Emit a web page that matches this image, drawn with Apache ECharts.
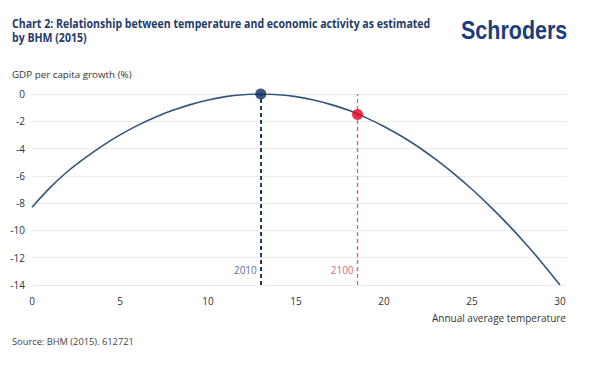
<!DOCTYPE html>
<html>
<head>
<meta charset="utf-8">
<script src="https://cdn.jsdelivr.net/npm/echarts@6/dist/echarts.min.js"></script>
<style>
html,body{margin:0;padding:0;background:#fff;}
#c{width:600px;height:371px;}
</style>
</head>
<body>
<div id="c"></div>
<script>
// Data
const temperatures = [0,1,2,3,4,5,6,7,8,9,10,11,12,13,14,15,16,17,18,19,20,21,22,23,24,25,26,27,28,29,30];
const gdpGrowth = [-8.3,-6.9,-5.7,-4.7,-3.8,-3.0,-2.3,-1.7,-1.2,-0.78,-0.44,-0.19,-0.05,0,-0.05,-0.19,-0.44,-0.78,-1.2,-1.75,-2.38,-3.1,-3.92,-4.85,-5.87,-6.98,-8.2,-9.5,-10.9,-12.4,-14.0];
const markerYears = ['2010','2100'];
const markerTemps = [13.0, 18.5];
const markerGrowth = [0, -1.5];
const xTickValues = [0,5,10,15,20,25,30];
const yTicks = {min:-14, max:0, interval:2};

const titleLines = ['Chart 2: Relationship between temperature and economic activity as estimated','by BHM (2015)'];
const yAxisTitle = 'GDP per capita growth (%)';
const xAxisTitle = 'Annual average temperature';
const sourceText = 'Source: BHM (2015). 612721';
const logoText = 'Schroders';

const NAVY = '#0c2b5c';
const NAVY_LINE = '#1c3b6a';
const RED = '#e2001f';
const RED_LINE = '#d9606f';
const CURVE = '#33557c';
const TXT = '#333333';
const FONT = '"Open Sans", "Noto Sans", sans-serif';

const chart = echarts.init(document.getElementById('c'), null, {renderer:'svg'});

const curveData = temperatures.map((t,i)=>[t, gdpGrowth[i]]);

chart.setOption({
  animation:false,
  backgroundColor:'#ffffff',
  grid:{left:32, right:33, top:94, bottom:86, containLabel:false, outerBoundsMode:'none'},
  xAxis:{
    type:'value', min:0, max:30.4,
    axisLine:{show:false}, axisTick:{show:false}, splitLine:{show:false},
    axisLabel:{customValues:xTickValues, color:TXT, fontSize:10, fontFamily:FONT, margin:11}
  },
  yAxis:{
    type:'value', min:yTicks.min, max:yTicks.max, interval:yTicks.interval,
    axisLine:{show:false}, axisTick:{show:false},
    splitLine:{lineStyle:{color:'#ebebeb', width:1}},
    axisLabel:{color:TXT, fontSize:10, fontFamily:FONT, margin:7}
  },
  series:[
    {
      type:'line', data:curveData, smooth:0.3, symbol:'none',
      lineStyle:{color:CURVE, width:1.6}, z:3,
      markLine:{
        silent:true, symbol:'none', label:{show:false},
        data:[
          {xAxis:markerTemps[0], lineStyle:{color:NAVY_LINE, width:2, type:[4,3]}},
          {xAxis:markerTemps[1], lineStyle:{color:RED_LINE, width:1.3, type:[4,3]}}
        ]
      }
    },
    {
      type:'scatter', z:5, symbolSize:11,
      data:[
        {value:[markerTemps[0], markerGrowth[0]], itemStyle:{color:NAVY}},
        {value:[markerTemps[1], markerGrowth[1]], itemStyle:{color:RED}}
      ]
    },
    {
      type:'scatter', symbolSize:0, z:6,
      data:[
        {value:[markerTemps[0], -12.9], label:{show:true, formatter:markerYears[0], color:'#2a4670'}},
        {value:[markerTemps[1], -12.9], label:{show:true, formatter:markerYears[1], color:'#c8404f'}}
      ],
      label:{position:'left', distance:4, fontSize:10, fontFamily:FONT}
    }
  ],
  graphic:[
    {type:'text', x:12, y:23.5, scaleX:0.88, style:{text:titleLines[0], fill:'#1f3b66', font:'bold 12px '+FONT, textVerticalAlign:'middle', verticalAlign:'middle'}},
    {type:'text', x:12, y:37, scaleX:0.88, style:{text:titleLines[1], fill:'#1f3b66', font:'bold 12px '+FONT, textVerticalAlign:'middle', verticalAlign:'middle'}},
    {type:'text', x:461, y:30, scaleX:0.86, style:{text:logoText, fill:'#1d3d7a', font:'bold 25px "Liberation Sans", Arial, sans-serif', textVerticalAlign:'middle', verticalAlign:'middle'}},
    {type:'text', x:12, y:74.5, style:{text:yAxisTitle, fill:TXT, font:'9.8px '+FONT, textVerticalAlign:'middle', verticalAlign:'middle'}},
    {type:'text', x:566, y:318, style:{text:xAxisTitle, fill:TXT, font:'10px '+FONT, textAlign:'right', align:'right', textVerticalAlign:'middle', verticalAlign:'middle'}},
    {type:'text', x:12, y:341, style:{text:sourceText, fill:'#444', font:'9.3px '+FONT, textVerticalAlign:'middle', verticalAlign:'middle'}}
  ]
});
</script>
</body>
</html>
